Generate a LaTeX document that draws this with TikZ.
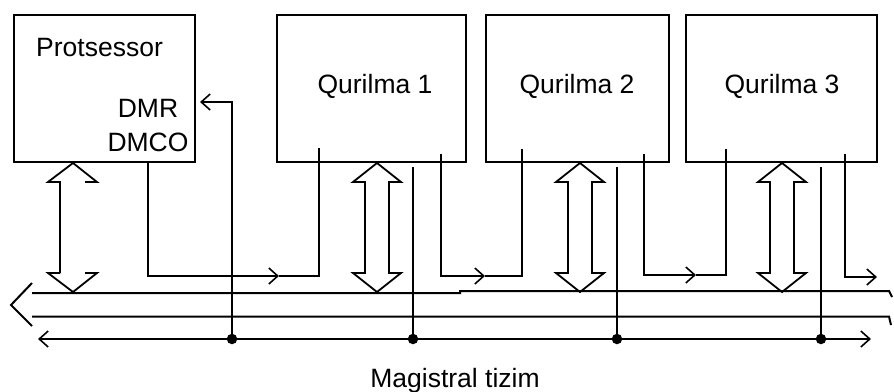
\documentclass[tikz,border=0pt]{standalone}
\usepackage{fontspec}
\setmainfont{Liberation Sans}
\usetikzlibrary{arrows.meta}
\tikzset{
  box/.style={draw, line width=2.3pt, rectangle, inner sep=0pt, minimum height=147pt},
  lbl/.style={font=\fontsize{26.5}{30}\selectfont, inner sep=0pt},
  wire/.style={line width=2pt},
  barb/.tip={Straight Barb[length=9pt,width=16pt,line width=1.6pt]},
  dot/.style={circle, fill, inner sep=0pt, minimum size=10.5pt},
  hollow/.pic={\draw[line width=1.8pt, line join=miter]
     (-12,19)--(-24,19)--(0,0)--(24,19)--(12,19)--(12,110)--(24,110)--(0,129)--(-24,110)--(-12,110)--cycle;},
  halfhollow/.pic={\draw[line width=1.8pt]
     (-13,110)--(-13,19)--(-25,19)--(0,0)--(24,19)--(12,19)
     (12,110)--(24,110)--(0,129)--(-25,110)--(-13,110);}
}
\begin{document}
\begin{tikzpicture}[x=1pt,y=-1pt]
\fill[white] (0,0) rectangle (894,391);
\useasboundingbox (0,0) rectangle (894,391);
\clip (0,0) rectangle (894,391);

% boxes
\node[box, minimum width=181pt] (P) at (104.5,88.5) {};
\node[box, minimum width=189pt] (Q1) at (371.5,88.5) {};
\node[box, minimum width=183pt] (Q2) at (577.5,88.5) {};
\node[box, minimum width=191pt] (Q3) at (781.5,88.5) {};

% labels
\node[lbl, anchor=base west] (tP) at (36,56) {Protsessor};
\node[lbl, anchor=base] (tDMR) at (148,117) {DMR};
\node[lbl, anchor=base] (tDMCO) at (148,151) {DMCO};
\node[lbl, anchor=base] (t1) at (375,93) {Qurilma 1};
\node[lbl, anchor=base] (t2) at (577,93) {Qurilma 2};
\node[lbl, anchor=base] (t3) at (782,93) {Qurilma 3};
\node[lbl, anchor=base] (tM) at (455,387) {Magistral tizim};

% bus lines
\coordinate (b1w) at (32,293);
\coordinate (b1m) at (460,293);
\coordinate (b1e) at (889,291);
\coordinate (b2w) at (32,316.5);
\coordinate (b2e) at (889,316.5);
\draw[wire] (b1w) -- (b1m) -- (460,291) -- (b1e) -- (892,297);
\draw[wire] (b2w) -- (b2e) -- (891,325);
\draw[wire] (32,283) -- (11,305) -- (32,326);
\coordinate (b3w) at (38,339);
\coordinate (b3e) at (871,339);
\draw[wire, {barb}-{barb}] (b3w) -- (b3e);

% dots and taps
\node[dot] (d0) at (232,339) {};
\node[dot] (d1) at (413,339) {};
\node[dot] (d2) at (617,339) {};
\node[dot] (d3) at (821,339) {};
\coordinate (dmr) at (200,102);
\draw[wire, -{barb}] (d0.center) |- (dmr);
\coordinate (d1t) at (413,167);
\coordinate (d2t) at (617,167);
\coordinate (d3t) at (821,167);
\draw[wire] (d1.center) -- (d1t);
\draw[wire] (d2.center) -- (d2t);
\draw[wire] (d3.center) -- (d3t);

% L-shaped control lines
\coordinate (p0) at (148,162);
\coordinate (m0) at (279,276);
\coordinate (q1a) at (319,148);
\draw[wire, -{barb}] (p0) |- (m0);
\draw[wire] (m0) -| (q1a);

\coordinate (q1b) at (441,154);
\coordinate (m1) at (485,276);
\coordinate (q2a) at (522,149);
\draw[wire, -{barb}] (q1b) |- (m1);
\draw[wire] (m1) -| (q2a);

\coordinate (q2b) at (644,154);
\coordinate (m2) at (696,275);
\coordinate (q3a) at (726,149);
\draw[wire, -{barb}] (q2b) |- (m2);
\draw[wire] (m2) -| (q3a);

\coordinate (q3b) at (845,154);
\coordinate (m3) at (877,277);
\draw[wire, -{barb}] (q3b) |- (m3);

% hollow bidirectional arrows
\pic at (73,163) {halfhollow};
\pic at (377,163) {hollow};
\pic at (580,163) {hollow};
\pic at (782,163) {hollow};
\end{tikzpicture}
\end{document}
